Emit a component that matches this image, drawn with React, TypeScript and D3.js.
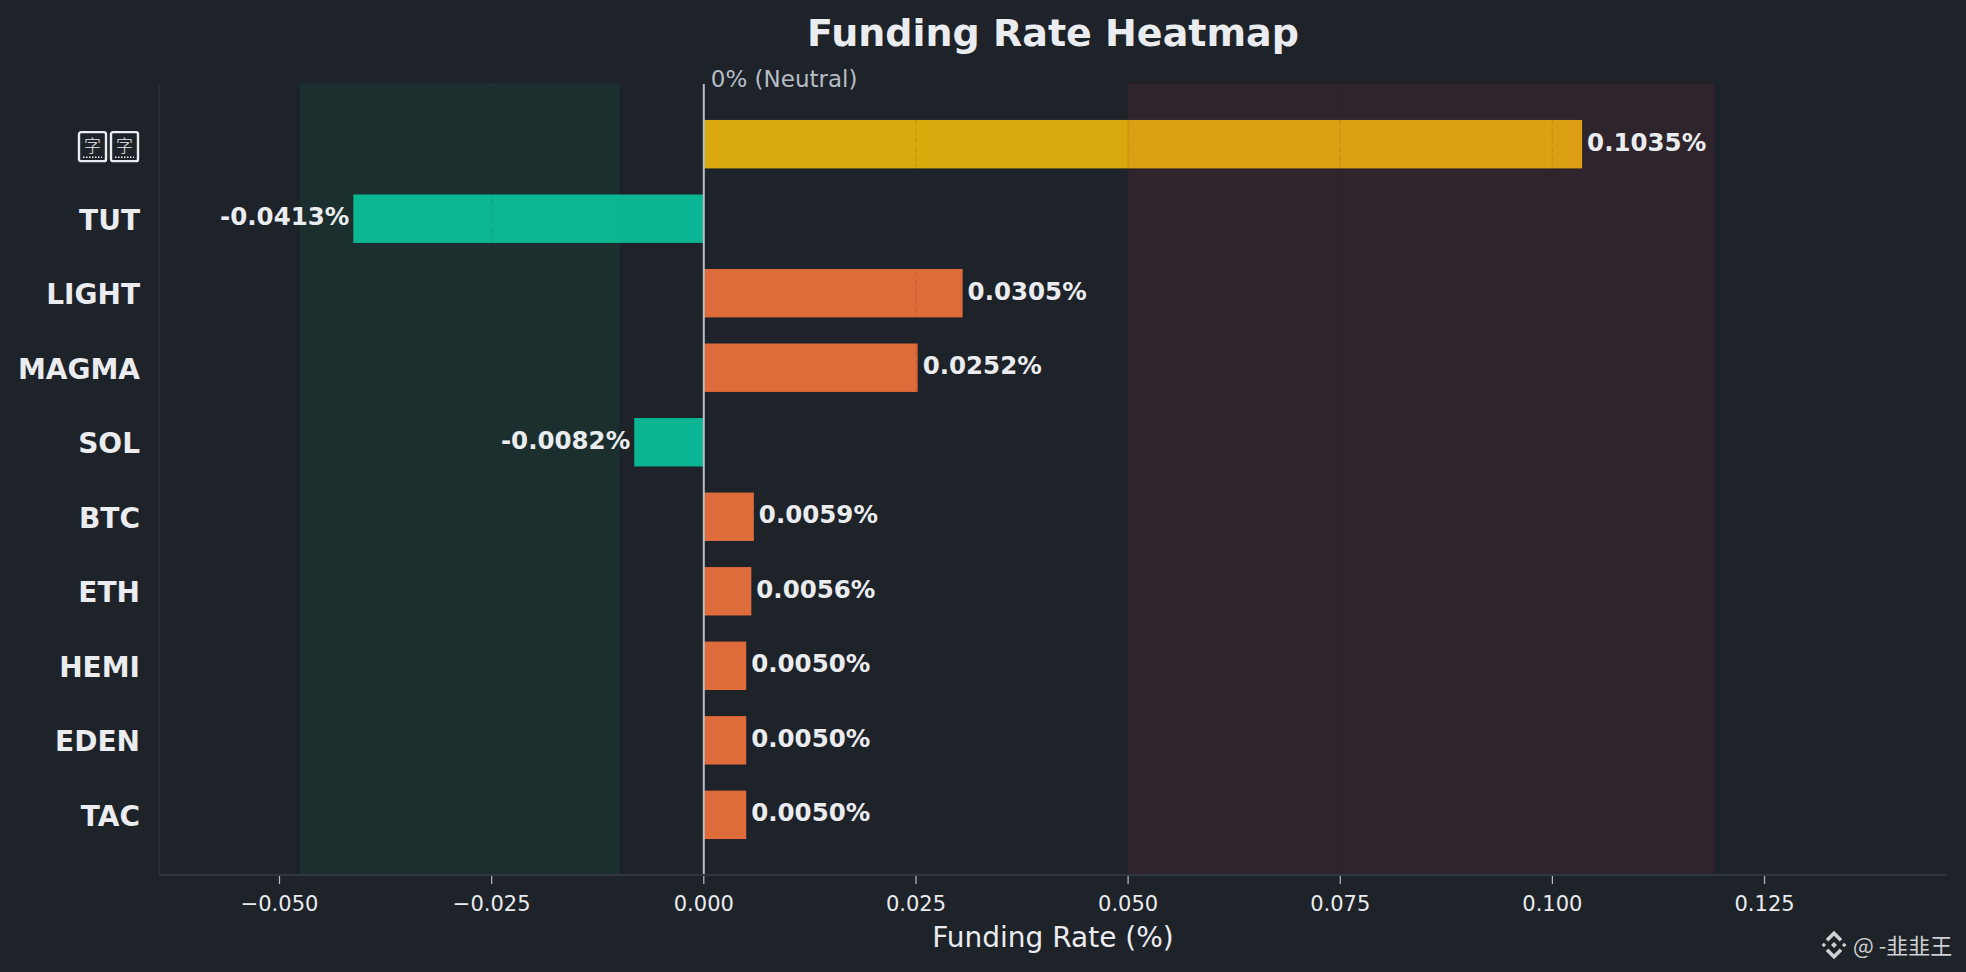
import * as d3 from 'd3';
import React from 'react';

// funding rates (%), top to bottom
const categories = ['字字', 'TUT', 'LIGHT', 'MAGMA', 'SOL', 'BTC', 'ETH', 'HEMI', 'EDEN', 'TAC'];
const rates = [0.1035, -0.0413, 0.0305, 0.0252, -0.0082, 0.0059, 0.0056, 0.005, 0.005, 0.005];
const xTicks = [-0.05, -0.025, 0, 0.025, 0.05, 0.075, 0.1, 0.125];
const lowZone = [-0.0475, -0.01];
const highZone = [0.05, 0.119];

const W = 1966;
const H = 972;
const left = 159;
const right = 1947;
const top = 84;
const bottom = 875;

const BG = '#1e2229';
const TEXT = '#eaecef';
const MUTED = '#b7bdc6';
const FONT = 'DejaVu Sans, sans-serif';
const CJK = '"Noto Sans CJK SC", sans-serif';

const barColor = (v: number) => (v > 0.05 ? '#d9a90e' : v > 0 ? '#de6b3a' : '#0bb594');

const App: React.FC = () => {
    const x = d3.scaleLinear().domain([-0.0642, 0.1465]).range([left, right]);
    const y = d3.scaleLinear().domain([-0.8075, 9.8075]).range([top, bottom]);
    const barH = y(0.65) - y(0);
    const fmt = d3.format('.3f');
    const x0 = x(0);

    return (
        <svg width={W} height={H} style={{ position: 'absolute', left: 0, top: 0, background: BG }}>
            <rect width={W} height={H} fill={BG} />

            {/* bars */}
            {rates.map((v, i) => (
                <rect
                    key={categories[i]}
                    x={Math.min(x(v), x0)}
                    y={y(i) - barH / 2}
                    width={Math.abs(x(v) - x0)}
                    height={barH}
                    fill={barColor(v)}
                />
            ))}

            {/* zones */}
            <rect x={x(lowZone[0])} y={top} width={x(lowZone[1]) - x(lowZone[0])} height={bottom - top}
                fill="#0ecb81" fillOpacity={0.08} stroke="#0ecb81" strokeOpacity={0.08} />
            <rect x={x(highZone[0])} y={top} width={x(highZone[1]) - x(highZone[0])} height={bottom - top}
                fill="#f6465d" fillOpacity={0.08} stroke="#f6465d" strokeOpacity={0.08} />

            {/* grid (only shows up over the bars) */}
            {xTicks.map((t) => (
                <line key={t} x1={x(t)} x2={x(t)} y1={top} y2={bottom}
                    stroke={BG} strokeOpacity={0.09} strokeWidth={1.6} strokeDasharray="6.2,2.7" />
            ))}

            {/* zero line */}
            <line x1={x0} x2={x0} y1={top} y2={bottom} stroke={MUTED} strokeWidth={2} />
            <text x={x0 + 7} y={86.5} fill={MUTED} fontFamily={FONT} fontSize={23}>0% (Neutral)</text>

            {/* spines */}
            <line x1={left} x2={left} y1={top} y2={bottom} stroke="#30363f" strokeWidth={1.2} />
            <line x1={left} x2={right} y1={bottom} y2={bottom} stroke="#30363f" strokeWidth={1.8} />

            {/* x ticks */}
            {xTicks.map((t) => (
                <g key={t} transform={`translate(${x(t)},0)`}>
                    <line y1={bottom + 1} y2={bottom + 9} stroke={MUTED} strokeWidth={1.2} />
                    <text y={910.5} textAnchor="middle" fill={TEXT} fontFamily={FONT} fontSize={21}>
                        {fmt(t).replace('-', '\u2212')}
                    </text>
                </g>
            ))}

            {/* y labels */}
            {categories.map((c, i) =>
                /[\u4e00-\u9fff]/.test(c) ? (
                    <g key={c}>
                        {Array.from(c).map((ch, k) => (
                            <g key={k} transform={`translate(${79 + k * 32},${y(i) - 12})`}>
                                <rect width={27} height={29} rx={2} fill="none" stroke={TEXT} strokeWidth={2.4} />
                                <line x1={4} x2={23} y1={25} y2={25} stroke={TEXT} strokeWidth={1.5} strokeDasharray="1.5,1.5" />
                                <text x={13.5} y={20} textAnchor="middle" fill={TEXT} fontFamily={CJK}
                                    fontSize={17} fontWeight={300}>{ch}</text>
                            </g>
                        ))}
                    </g>
                ) : (
                    <text key={c} x={140} y={y(i) + 11} textAnchor="end" fill={TEXT}
                        fontFamily={FONT} fontWeight="bold" fontSize={28}>{c}</text>
                )
            )}

            {/* value labels */}
            {rates.map((v, i) => (
                <text key={categories[i]} x={v >= 0 ? x(v) + 5 : x(v) - 4} y={y(i) + 6.5}
                    textAnchor={v >= 0 ? 'start' : 'end'} fill={TEXT} fontFamily={FONT}
                    fontWeight="bold" fontSize={24.5}>
                    {`${v.toFixed(4)}%`}
                </text>
            ))}

            {/* titles */}
            <text x={(left + right) / 2} y={46} textAnchor="middle" fill={TEXT} fontFamily={FONT}
                fontWeight="bold" fontSize={38}>Funding Rate Heatmap</text>
            <text x={(left + right) / 2} y={947} textAnchor="middle" fill={TEXT} fontFamily={FONT}
                fontSize={28}>Funding Rate (%)</text>

            {/* watermark */}
            <g transform="translate(1834,945) scale(15)" fill="#cfd0d2">
                <path d="M0,-0.2L0.2,0L0,0.2L-0.2,0Z" />
                <path d="M-0.68,-0.15L-0.53,0L-0.68,0.15L-0.83,0Z" />
                <path d="M0.68,-0.15L0.83,0L0.68,0.15L0.53,0Z" />
                <path d="M0,-0.95L0.55,-0.4L0.38,-0.23L0,-0.61L-0.38,-0.23L-0.55,-0.4Z" />
                <path d="M0,0.95L0.55,0.4L0.38,0.23L0,0.61L-0.38,0.23L-0.55,0.4Z" />
            </g>
            <text x={1853} y={953.5} fill="#cfd0d2" fontFamily={CJK} fontSize={22}>@ -韭韭王</text>
        </svg>
    );
};

export default App;
